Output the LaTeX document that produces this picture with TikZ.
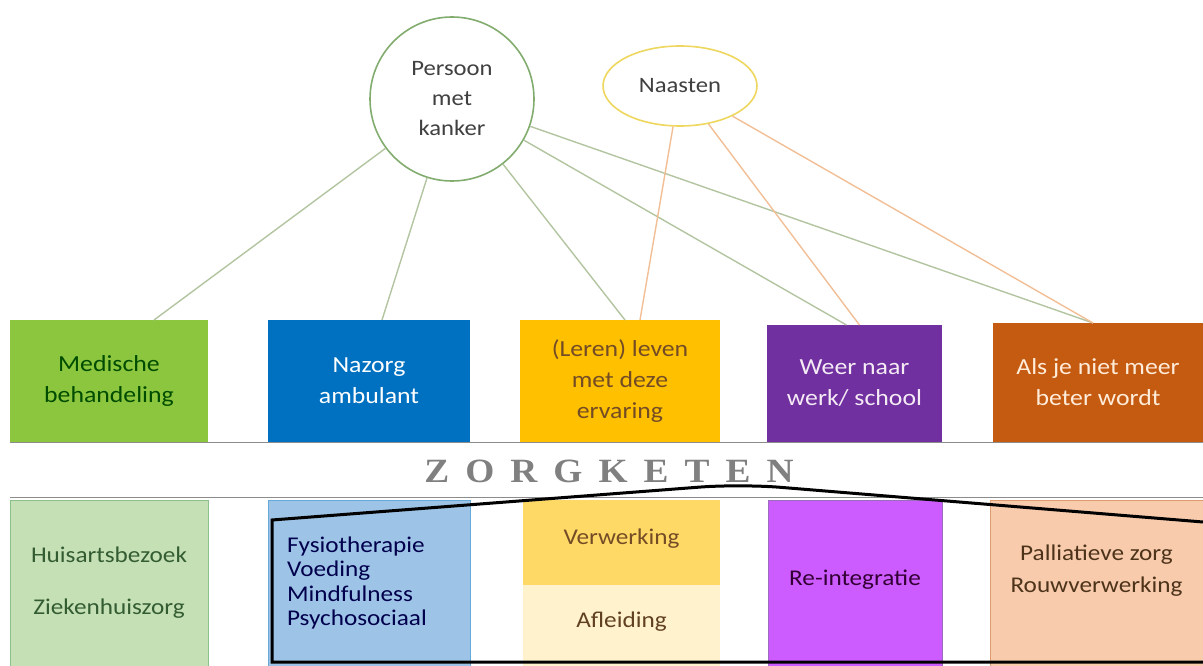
\documentclass[tikz,border=0pt]{standalone}
\usepackage{fontspec}
\setmainfont{Carlito}[FakeStretch=1.12]
\newfontfamily\bandfont{Liberation Serif}[FakeStretch=1.1]
\usepackage{xcolor}
\usetikzlibrary{shapes.geometric, positioning}

\definecolor{medgreen}{RGB}{140,198,63}
\definecolor{medgreenlt}{RGB}{197,224,180}
\definecolor{nazblue}{RGB}{0,112,192}
\definecolor{nazbluelt}{RGB}{157,195,230}
\definecolor{lerengold}{RGB}{255,192,0}
\definecolor{lerengoldlt}{RGB}{255,217,102}
\definecolor{lerencream}{RGB}{255,242,204}
\definecolor{werkpurple}{RGB}{112,48,160}
\definecolor{werkviolet}{RGB}{204,92,255}
\definecolor{palorange}{RGB}{197,90,17}
\definecolor{palpeach}{RGB}{248,203,173}
\definecolor{personline}{RGB}{178,196,160}
\definecolor{naastline}{RGB}{242,190,150}
\definecolor{personring}{RGB}{130,172,110}
\definecolor{naastring}{RGB}{238,215,95}

\begin{document}
\begin{tikzpicture}[x=1pt, y=-1pt,
                % Define styles
                phase/.style={rectangle, fill=#1, minimum height=122pt, inner sep=0pt, outer sep=0pt, align=center, font=\fontsize{23}{31}\selectfont},
                care/.style={rectangle, fill=#1, minimum height=166pt, inner sep=0pt, outer sep=0pt, align=center, font=\fontsize{22.5}{32}\selectfont},
                actor/.style={draw=#1, line width=1.6pt, fill=white, align=center, text=black!75, font=\fontsize{22}{30}\selectfont},
                plink/.style={draw=personline, line width=1.4pt},
                nlink/.style={draw=naastline, line width=1.4pt},
                bandline/.style={draw=black!45, line width=1pt},
                zoomline/.style={draw=black, line width=3pt}
            ]
            \useasboundingbox (0,0) rectangle (1203,666);

            % --- Actors ---
            \node [actor=personring, circle, minimum size=164pt, inner sep=0pt] (persoon) at (452,99) {Persoon\\met\\kanker};
            \node [actor=naastring, ellipse, minimum width=154pt, minimum height=80pt] (naasten) at (680,86) {Naasten};

            % --- Phases of care ---
            \node [phase=medgreen, minimum width=198pt, text=green!30!black] (medische) at (109,381) {Medische\\behandeling};
            \node [phase=nazblue, minimum width=202pt, text=white] (nazorg) at (369,381) {Nazorg\\ambulant};
            \node [phase=lerengold, minimum width=200pt, text=brown!60!black] (leren) at (620,381) {(Leren) leven\\met deze\\ervaring};
            \node [phase=werkpurple, minimum width=175pt, minimum height=117pt, text=violet!8] (werk) at (854.5,383.5) {Weer naar\\werk/ school};
            \node [phase=palorange, minimum width=210pt, minimum height=119pt, text=orange!15] (palliatief) at (1098,382.5) {Als je niet meer\\beter wordt};

            % --- Care offered ---
            \node [care=medgreenlt, draw=green!30!gray!70, minimum width=198pt, text=green!20!black!80] (huisarts) at (109,583) {Huisartsbezoek\\[20pt]Ziekenhuiszorg};
            \node [care=nazbluelt, draw=nazblue!60, text width=164pt, inner xsep=19pt, align=left, font=\fontsize{22.5}{24.5}\selectfont, text=blue!30!black] (nazorglt) at (369,583) {Fysiotherapie\\Voeding\\Mindfulness\\Psychosociaal};
            \node [care=lerengoldlt, minimum width=197pt, minimum height=85pt, text=brown!60!black] (verwerking) at (621.5,542.5) {\raisebox{12pt}{Verwerking}};
            \node [care=lerencream, minimum width=197pt, minimum height=81pt, below=0pt of verwerking, text=brown!50!black] (afleiding) {\raisebox{12pt}{Afleiding}};
            \node [care=werkviolet, draw=werkpurple!70, minimum width=174pt, text=violet!40!black] (reintegratie) at (855,583) {\raisebox{10pt}{Re-integratie}};
            \node [care=palpeach, draw=palorange!60, minimum width=213pt, text depth=28pt, text=brown!40!black] (rouw) at (1096.5,583) {Palliatieve zorg\\Rouwverwerking};

            % --- Band ---
            \draw [bandline] (10,442) -- (1203,442);
            \draw [bandline] (10,497) -- (1203,497);
            \node [font={\bandfont\bfseries\fontsize{34}{34}\selectfont\spaceskip=16pt\relax}, text=black!50] (zorgketen) at (609,471) {Z O R G K E T E N};

            % --- Edges ---
            \path [plink] (persoon) -- ([xshift=45pt]medische.north);
            \path [plink] (persoon) -- ([xshift=13pt]nazorg.north);
            \path [plink] (persoon) -- ([xshift=5pt]leren.north);
            \path [plink] (persoon) -- ([xshift=-8pt]werk.north);
            \path [plink] (persoon) -- ([xshift=-5pt]palliatief.north);
            \path [nlink] (naasten) -- ([xshift=20pt]leren.north);
            \path [nlink] (naasten) -- ([xshift=5pt]werk.north);
            \path [nlink] (naasten) -- ([xshift=-5pt]palliatief.north);

            % zoom outline
            \draw [zoomline] (1203,662) -- (272,662) -- (272,520) [rounded corners=40pt] -- (740,484) -- (1203,522);

        \end{tikzpicture}
\end{document}
